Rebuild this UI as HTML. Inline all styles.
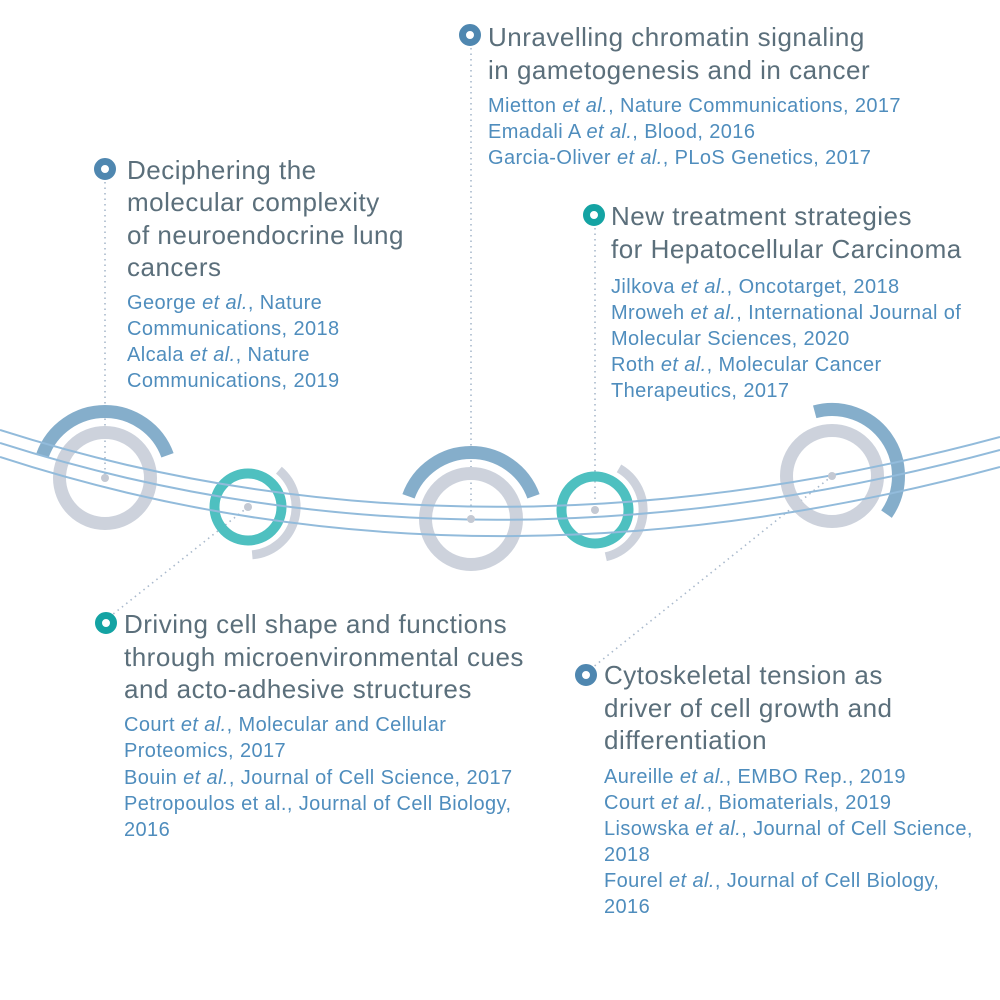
<!DOCTYPE html>
<html><head><meta charset="utf-8"><style>
html,body{margin:0;padding:0;background:#fff;}
svg{display:block}
.h{font-family:"Liberation Sans",sans-serif;font-size:26px;letter-spacing:0.5px;fill:#5b6f7b;}
.r{font-family:"Liberation Sans",sans-serif;font-size:20px;letter-spacing:0.4px;fill:#4f8dbd;}
.i{font-style:italic}
</style></head><body>
<svg width="1000" height="1000" viewBox="0 0 1000 1000" xmlns="http://www.w3.org/2000/svg">
<g stroke="#a9b9cc" stroke-width="1.6" stroke-dasharray="1.5 4" fill="none">
<line x1="105" y1="182" x2="105" y2="478"/>
<line x1="471" y1="48" x2="471" y2="519"/>
<line x1="595" y1="228" x2="595" y2="510"/>
<line x1="248" y1="507" x2="112" y2="615"/>
<line x1="832" y1="476" x2="592" y2="668"/>
</g>
<g fill="none">
<circle cx="105" cy="478" r="45.5" stroke="#cdd2dc" stroke-width="13"/>
<path d="M42.5,455.3 A66.5,66.5 0 0 1 167.5,455.3" stroke="#85aecb" stroke-width="13"/>
<circle cx="471" cy="519" r="45.5" stroke="#cdd2dc" stroke-width="13"/>
<path d="M408.5,496.3 A66.5,66.5 0 0 1 533.5,496.3" stroke="#85aecb" stroke-width="13"/>
<circle cx="832" cy="476" r="45.5" stroke="#cdd2dc" stroke-width="13"/>
<path d="M814.7,411.8 A66.5,66.5 0 0 1 886.5,514.1" stroke="#85aecb" stroke-width="13"/>
<circle cx="248" cy="507" r="33.5" stroke="#4ec0c0" stroke-width="10"/>
<path d="M278.9,470.2 A48,48 0 0 1 252.2,554.8" stroke="#cdd2dc" stroke-width="9"/>
<circle cx="595" cy="510" r="33.5" stroke="#4ec0c0" stroke-width="10"/>
<path d="M619,468.4 A48,48 0 0 1 605.8,556.8" stroke="#cdd2dc" stroke-width="9"/>
</g>
<g fill="none" stroke="#92bbdb" stroke-width="2">
<path d="M0,430 Q470,580 1000,437"/>
<path d="M0,443 Q470,593 1000,450"/>
<path d="M0,457 Q470,610 1000,467"/>
</g>
<g fill="#c4c9d3">
<circle cx="105" cy="478" r="4"/><circle cx="471" cy="519" r="4"/><circle cx="832" cy="476" r="4"/>
<circle cx="248" cy="507" r="4"/><circle cx="595" cy="510" r="4"/>
</g>
<g stroke-width="7" fill="#fff">
<circle cx="105" cy="169" r="7.5" stroke="#4f87b0"/>
<circle cx="470" cy="35" r="7.5" stroke="#4f87b0"/>
<circle cx="594" cy="215" r="7.5" stroke="#14a3a3"/>
<circle cx="106" cy="623" r="7.5" stroke="#14a3a3"/>
<circle cx="586" cy="675" r="7.5" stroke="#4f87b0"/>
</g>
<text class="h" x="127" y="179">Deciphering the</text>
<text class="h" x="127" y="211">molecular complexity</text>
<text class="h" x="127" y="244">of neuroendocrine lung</text>
<text class="h" x="127" y="276">cancers</text>
<text class="r" x="127" y="309">George <tspan class="i">et al.</tspan>, Nature</text>
<text class="r" x="127" y="335">Communications, 2018</text>
<text class="r" x="127" y="361">Alcala <tspan class="i">et al.</tspan>, Nature</text>
<text class="r" x="127" y="387">Communications, 2019</text>
<text class="h" x="488" y="46">Unravelling chromatin signaling</text>
<text class="h" x="488" y="79">in gametogenesis and in cancer</text>
<text class="r" x="488" y="112">Mietton <tspan class="i">et al.</tspan>, Nature Communications, 2017</text>
<text class="r" x="488" y="138">Emadali A <tspan class="i">et al.</tspan>, Blood, 2016</text>
<text class="r" x="488" y="164">Garcia-Oliver <tspan class="i">et al.</tspan>, PLoS Genetics, 2017</text>
<text class="h" x="611" y="225">New treatment strategies</text>
<text class="h" x="611" y="258">for Hepatocellular Carcinoma</text>
<text class="r" x="611" y="293">Jilkova <tspan class="i">et al.</tspan>, Oncotarget, 2018</text>
<text class="r" x="611" y="319">Mroweh <tspan class="i">et al.</tspan>, International Journal of</text>
<text class="r" x="611" y="345">Molecular Sciences, 2020</text>
<text class="r" x="611" y="371">Roth <tspan class="i">et al.</tspan>, Molecular Cancer</text>
<text class="r" x="611" y="397">Therapeutics, 2017</text>
<text class="h" x="124" y="633">Driving cell shape and functions</text>
<text class="h" x="124" y="666">through microenvironmental cues</text>
<text class="h" x="124" y="698">and acto-adhesive structures</text>
<text class="r" x="124" y="731">Court <tspan class="i">et al.</tspan>, Molecular and Cellular</text>
<text class="r" x="124" y="757">Proteomics, 2017</text>
<text class="r" x="124" y="784">Bouin <tspan class="i">et al.</tspan>, Journal of Cell Science, 2017</text>
<text class="r" x="124" y="810">Petropoulos et al., Journal of Cell Biology,</text>
<text class="r" x="124" y="836">2016</text>
<text class="h" x="604" y="684">Cytoskeletal tension as</text>
<text class="h" x="604" y="717">driver of cell growth and</text>
<text class="h" x="604" y="749">differentiation</text>
<text class="r" x="604" y="783">Aureille <tspan class="i">et al.</tspan>, EMBO Rep., 2019</text>
<text class="r" x="604" y="809">Court <tspan class="i">et al.</tspan>, Biomaterials, 2019</text>
<text class="r" x="604" y="835">Lisowska <tspan class="i">et al.</tspan>, Journal of Cell Science,</text>
<text class="r" x="604" y="861">2018</text>
<text class="r" x="604" y="887">Fourel <tspan class="i">et al.</tspan>, Journal of Cell Biology,</text>
<text class="r" x="604" y="913">2016</text>
</svg>
</body></html>
